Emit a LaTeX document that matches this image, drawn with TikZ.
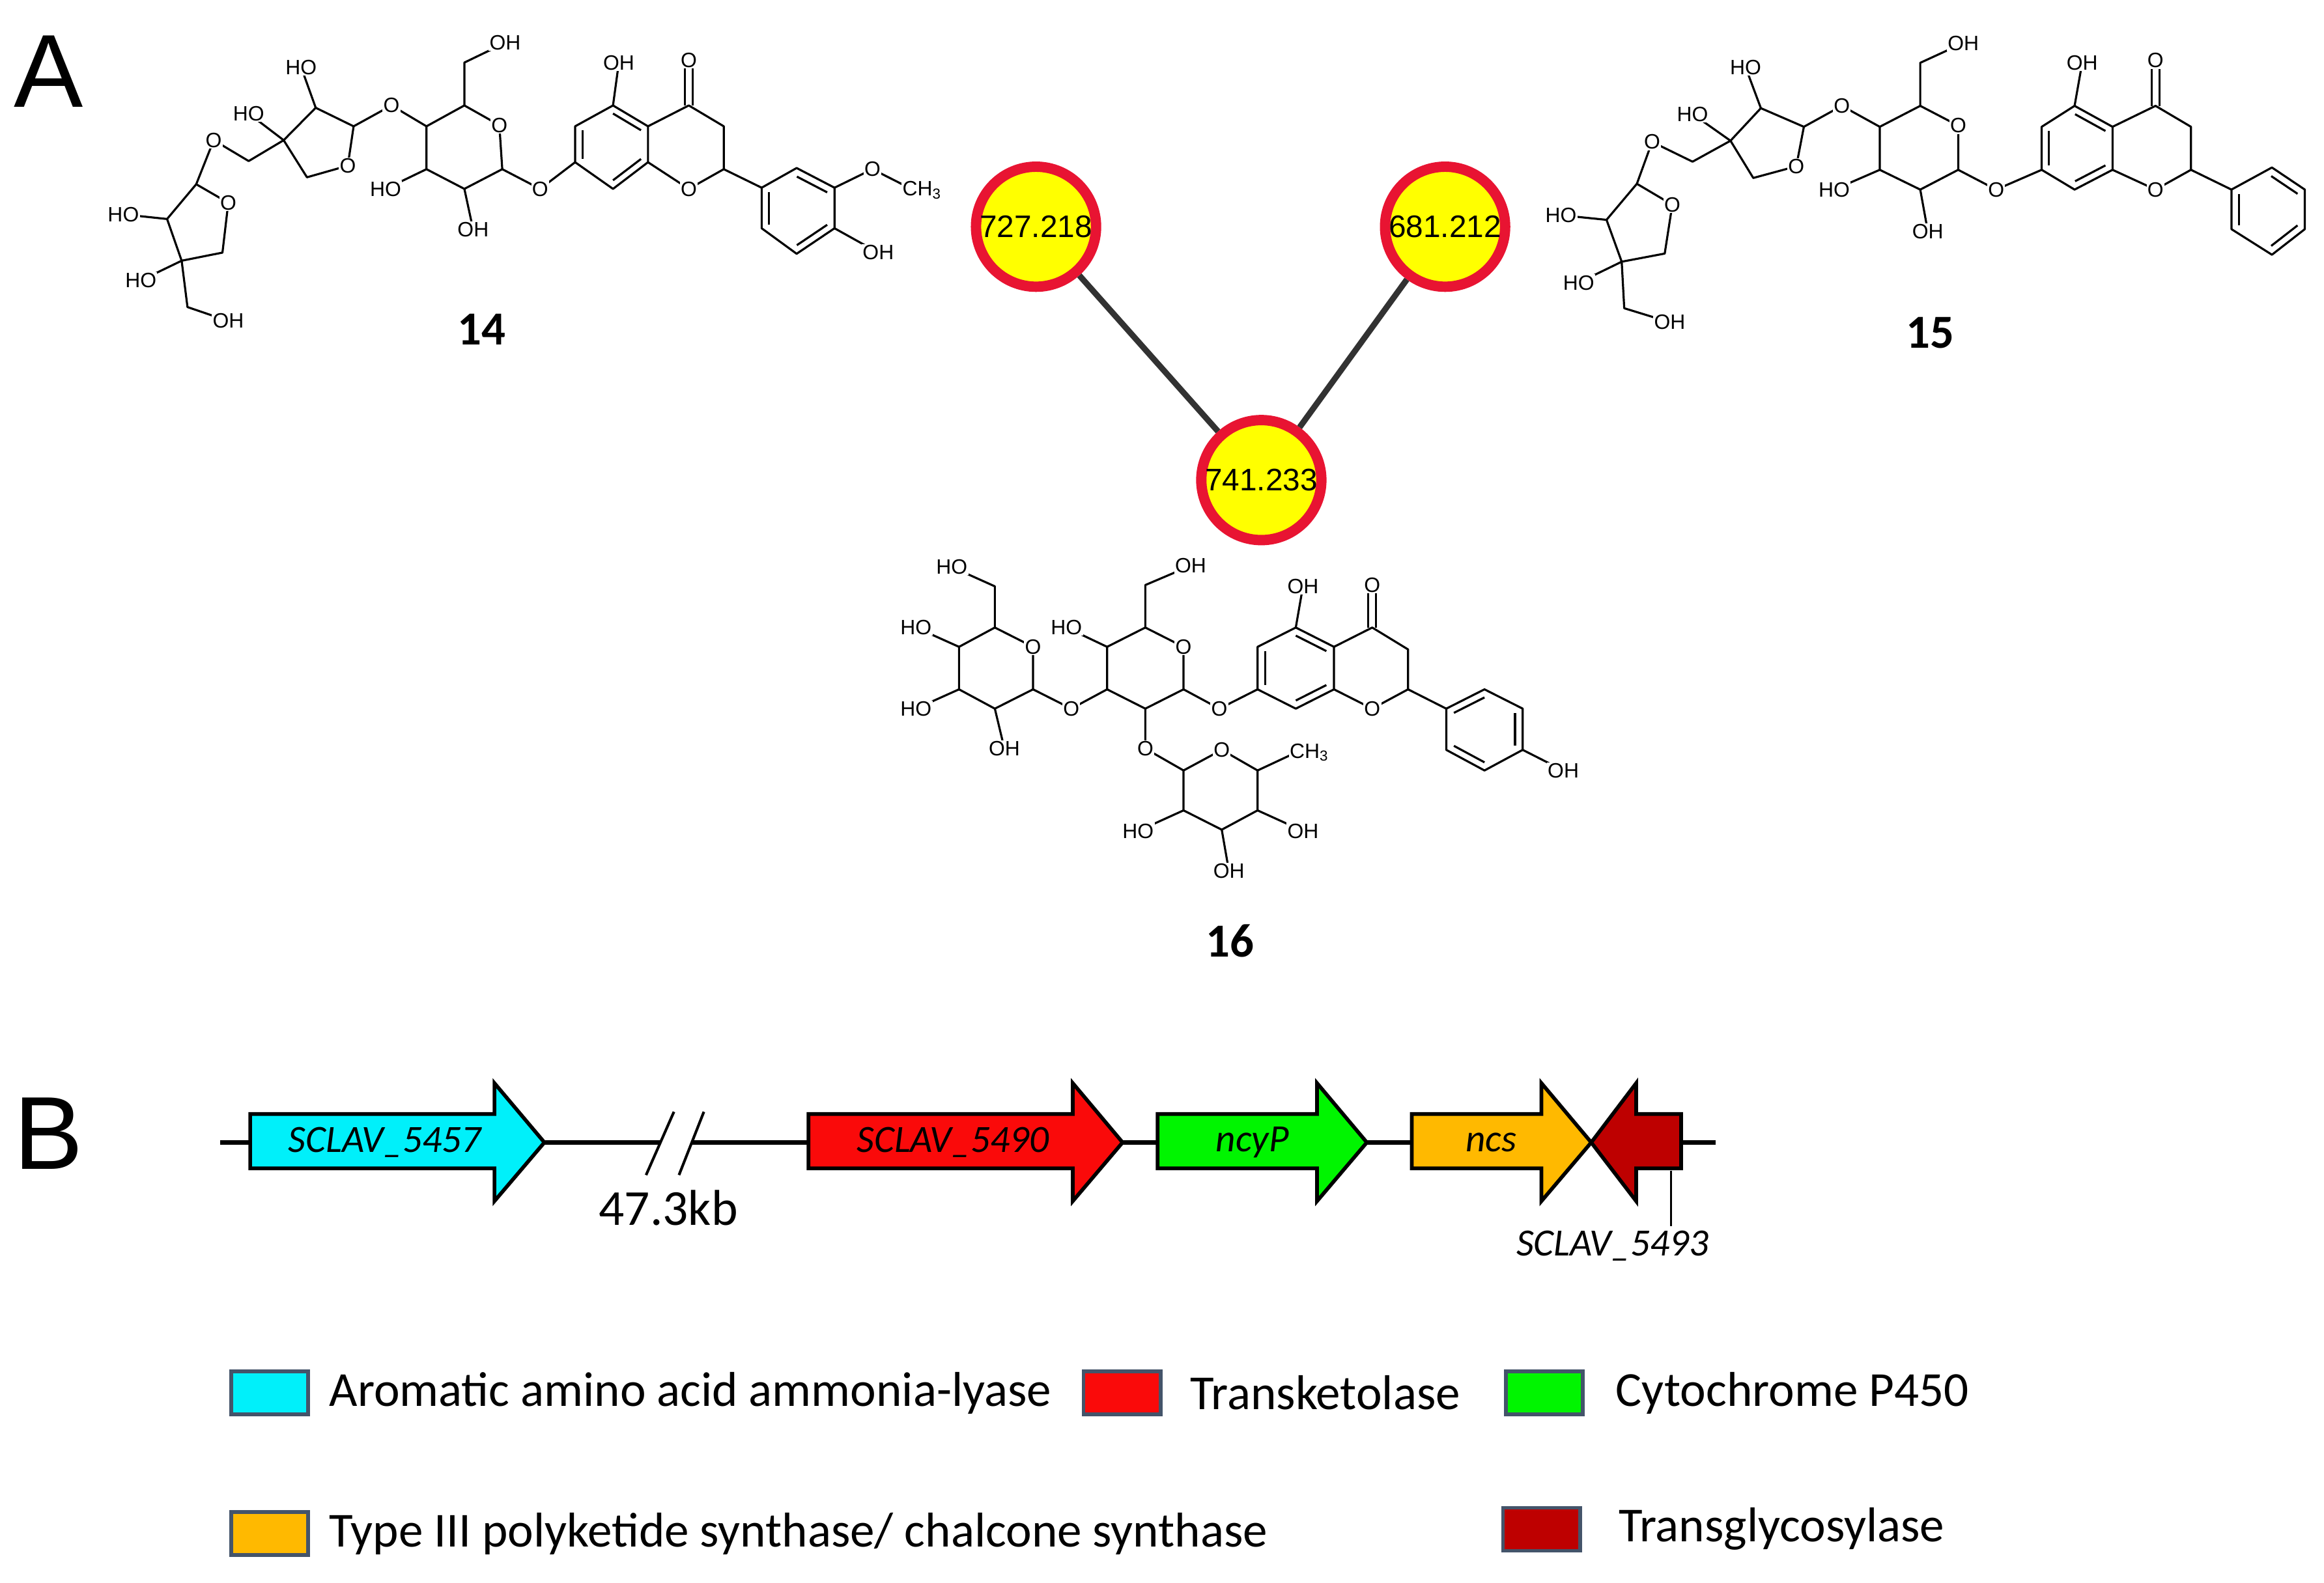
\documentclass[tikz,border=0pt]{standalone}
\usepackage{fontspec}
\usepackage{graphicx}
\setmainfont{Carlito}
\newfontfamily\arial{Liberation Sans}
\usetikzlibrary{calc}
\definecolor{netred}{RGB}{232,20,50}
\definecolor{netyel}{RGB}{255,255,0}
\definecolor{gcyan}{RGB}{0,240,250}
\definecolor{gred}{RGB}{250,10,10}
\definecolor{ggreen}{RGB}{0,245,0}
\definecolor{gorange}{RGB}{255,185,0}
\definecolor{gdred}{RGB}{190,0,0}
\definecolor{legbd}{RGB}{68,84,106}
\newcommand\dbl[3]{\draw ($#1!0.2!#3$) -- ($#2!0.2!#3$);}
\tikzset{
 chem/.style={line width=1.4pt, line join=round},
 atm/.style={font=\arial\fontsize{14}{14}\selectfont, fill=white, inner sep=0.6pt},
 cmpd/.style={font=\bfseries\fontsize{32}{32}\selectfont},
 netnode/.style={circle, draw=netred, fill=netyel, line width=7pt, minimum size=81pt, inner sep=0pt, font=\arial\fontsize{21}{21}\selectfont},
 netedge/.style={line width=4pt, draw={rgb,255:red,50;green,50;blue,50}},
 gene/.style={line width=2.5pt, draw=black, line join=miter},
 glab/.style={font=\itshape\fontsize{26}{26}\selectfont},
 legsq/.style={draw=legbd, line width=2.5pt, minimum width=52pt, minimum height=29pt, inner sep=0pt},
 legtx/.style={anchor=west, font=\fontsize{33}{33}\selectfont, inner sep=0pt},
 panel/.style={font=\arial\fontsize{70}{70}\selectfont}
}
\begin{document}
\begin{tikzpicture}[x=1pt,y=-1pt]
\useasboundingbox (0,0) rectangle (1568,1068);
\node[panel] (pA) at (33,48) {A};
\node[panel] (pB) at (33,765) {B};

% ---------- compound 14 ----------
\begin{scope}[shift={(43.9,0)},xscale=0.3933,yscale=0.1564,chem]
\draw (175,945)--(225,795)--(280,875)--(270,1090)--(200,1125)--cycle;
\draw (175,945)--(100,925) (200,1125)--(130,1210) (200,1125)--(210,1325)--(280,1385);
\draw (225,795)--(255,605)--(315,695)--(375,605);
\draw (375,605)--(430,465)--(495,545)--(485,715)--(415,765)--cycle;
\draw (430,465)--(405,290) (375,605)--(315,490);
\draw (495,545)--(560,455)--(620,545);
\draw (620,545)--(685,455)--(745,540)--(750,730)--(685,815)--(620,730)--cycle;
\draw (685,455)--(685,270)--(755,185) (620,730)--(550,815) (685,815)--(700,990);
\draw (750,730)--(815,815)--(875,700);
\draw (875,700)--(940,815)--(1000,700)--(1000,545)--(940,455)--(875,545)--cycle;
\draw (940,455)--(950,270);
\draw (1000,545)--(1070,455)--(1130,545)--(1130,730)--(1070,815)--(1000,700);
\draw (1063,455)--(1063,270) (1077,455)--(1077,270);
\draw (1130,730)--(1195,810);
\draw (1195,810)--(1255,725)--(1320,810)--(1320,985)--(1255,1095)--(1195,985)--cycle;
\draw (1320,810)--(1385,730)--(1440,800) (1320,985)--(1395,1090);
\dbl{(875,545)}{(875,700)}{(940,630)}
\dbl{(940,455)}{(1000,545)}{(940,630)}
\dbl{(940,815)}{(1000,700)}{(940,630)}
\dbl{(1255,725)}{(1320,810)}{(1257,910)}
\dbl{(1320,985)}{(1255,1095)}{(1257,910)}
\dbl{(1195,985)}{(1195,810)}{(1257,910)}
\foreach \p in {(280,875),(485,715),(560,455),(745,540),(815,815),(1070,815),(1070,260),(255,605),(1385,730)} \node[atm] at \p {O};
\foreach \p in {(100,925),(130,1210),(405,290),(315,490),(550,815)} \node[atm] at \p {HO};
\foreach \p in {(280,1385),(755,185),(700,990),(950,270),(1395,1090)} \node[atm] at \p {OH};
\node[atm] at (1470,820) {CH\textsubscript{3}};
\node[cmpd] (c14) at (715,1420) {14};
\end{scope}

% ---------- compound 15 ----------
\begin{scope}[shift={(1032.7,0)},xscale=0.3414,yscale=0.157,chem]
\draw (150,945)--(210,790)--(280,880)--(265,1090)--(180,1125)--cycle;
\draw (150,945)--(60,925) (180,1125)--(95,1215) (180,1125)--(185,1325)--(275,1385);
\draw (210,790)--(240,610)--(320,695)--(395,605);
\draw (395,605)--(455,465)--(540,545)--(525,715)--(440,765)--cycle;
\draw (455,465)--(425,290) (395,605)--(320,490);
\draw (540,545)--(615,455)--(690,545);
\draw (690,545)--(770,455)--(845,540)--(845,730)--(770,815)--(690,730)--cycle;
\draw (770,455)--(770,270)--(855,185) (690,730)--(600,815) (770,815)--(785,995);
\draw (845,730)--(920,815)--(1010,730);
\draw (1010,730)--(1075,815)--(1150,730)--(1150,545)--(1075,455)--(1010,545)--cycle;
\draw (1075,455)--(1090,270);
\draw (1150,545)--(1235,455)--(1305,545)--(1305,730)--(1235,815)--(1150,730);
\draw (1227,455)--(1227,270) (1243,455)--(1243,270);
\draw (1305,730)--(1385,815);
\draw (1385,815)--(1465,720)--(1530,815)--(1530,985)--(1465,1095)--(1385,985)--cycle;
\dbl{(1010,545)}{(1010,730)}{(1080,635)}
\dbl{(1075,455)}{(1150,545)}{(1080,635)}
\dbl{(1075,815)}{(1150,730)}{(1080,635)}
\dbl{(1465,720)}{(1530,815)}{(1458,905)}
\dbl{(1530,985)}{(1465,1095)}{(1458,905)}
\dbl{(1385,985)}{(1385,815)}{(1458,905)}
\foreach \p in {(280,880),(525,715),(615,455),(845,540),(920,815),(1235,815),(1235,260),(240,610)} \node[atm] at \p {O};
\foreach \p in {(60,925),(95,1215),(425,290),(320,490),(600,815)} \node[atm] at \p {HO};
\foreach \p in {(275,1385),(855,185),(785,995),(1090,270)} \node[atm] at \p {OH};
\node[cmpd] (c15) at (790,1430) {15};
\end{scope}

% ---------- compound 16 ----------
\begin{scope}[shift={(571.3,334)},xscale=0.3223,yscale=0.1738,chem]
\draw (310,515)--(390,590)--(390,755)--(310,830)--(235,755)--(235,590)--cycle;
\draw (310,515)--(310,355)--(220,280) (235,590)--(145,515) (235,755)--(145,830) (310,830)--(330,985);
\draw (390,755)--(470,830)--(545,755);
\draw (545,590)--(625,515)--(705,590)--(705,755)--(625,830)--(545,755)--cycle;
\draw (545,590)--(460,515) (625,515)--(625,350)--(720,275);
\draw (705,755)--(780,830)--(860,755) (625,830)--(625,985)--(705,1070);
\draw (705,1070)--(785,990)--(860,1070)--(860,1225)--(785,1300)--(705,1225)--cycle;
\draw (860,1070)--(935,1005) (705,1225)--(610,1305) (860,1225)--(955,1305) (785,1300)--(800,1460);
\draw (860,755)--(940,830)--(1020,755)--(1020,590)--(940,515)--(860,590)--cycle;
\draw (940,515)--(955,355);
\draw (1020,590)--(1100,515)--(1175,600)--(1175,755)--(1100,830)--(1020,755);
\draw (1092,515)--(1092,350) (1108,515)--(1108,350);
\draw (1175,755)--(1255,830);
\draw (1255,830)--(1335,755)--(1415,830)--(1415,990)--(1335,1070)--(1255,990)--cycle;
\draw (1415,990)--(1500,1070);
\dbl{(860,590)}{(860,755)}{(940,672)}
\dbl{(940,515)}{(1020,590)}{(940,672)}
\dbl{(940,830)}{(1020,755)}{(940,672)}
\dbl{(1255,830)}{(1335,755)}{(1335,912)}
\dbl{(1415,830)}{(1415,990)}{(1335,912)}
\dbl{(1335,1070)}{(1255,990)}{(1335,912)}
\foreach \p in {(390,590),(470,830),(705,590),(780,830),(625,985),(785,990),(1100,830),(1100,350)} \node[atm] at \p {O};
\foreach \p in {(220,280),(145,515),(145,830),(460,515),(610,1305)} \node[atm] at \p {HO};
\foreach \p in {(330,985),(720,275),(955,355),(955,1305),(800,1460),(1500,1070)} \node[atm] at \p {OH};
\node[atm] at (968,1000) {CH\textsubscript{3}};
\end{scope}
\node[cmpd] (c16) at (830,635) {16};

% ---------- network ----------
\node[netnode] (n1) at (699,153) {727.218};
\node[netnode] (n2) at (975,153) {681.212};
\node[netnode] (n3) at (851,324) {741.233};
\draw[netedge] (n1) -- (n3);
\draw[netedge] (n2) -- (n3);

% ---------- gene cluster ----------
\coordinate (bL) at (148.6,771);
\coordinate (gapL) at (445,771);
\coordinate (gapR) at (467,771);
\coordinate (bR) at (1157.7,771);
\draw[line width=3pt] (bL) -- (gapL);
\draw[line width=3pt] (gapR) -- (bR);
\draw[line width=1.8pt] (454.7,750.3) -- (435.9,793);
\draw[line width=1.8pt] (474.9,750.3) -- (458.1,793);
\node[font=\fontsize{34}{34}\selectfont] (kb) at (451,815) {47.3kb};

\draw[gene, fill=gcyan] (168.8,751.8)--(333.6,751.8)--(333.6,731)--(367.3,771)--(333.6,810.6)--(333.6,788.5)--(168.8,788.5)--cycle;
\draw[gene, fill=gred] (545.5,751.8)--(723.8,751.8)--(723.8,731)--(757.4,771)--(723.8,810.6)--(723.8,788.5)--(545.5,788.5)--cycle;
\draw[gene, fill=ggreen] (781,751.8)--(888.6,751.8)--(888.6,731)--(922.2,771)--(888.6,810.6)--(888.6,788.5)--(781,788.5)--cycle;
\draw[gene, fill=gorange] (952.5,751.8)--(1040,751.8)--(1040,731)--(1073.6,771)--(1040,810.6)--(1040,788.5)--(952.5,788.5)--cycle;
\draw[gene, fill=gdred] (1134.2,751.8)--(1103.9,751.8)--(1103.9,731)--(1073.6,771)--(1103.9,810.6)--(1103.9,788.5)--(1134.2,788.5)--cycle;
\node[glab] (g1) at (259.6,771) {SCLAV\_5457};
\node[glab] (g2) at (643,771) {SCLAV\_5490};
\node[glab] (g3) at (845,771) {ncyP};
\node[glab] (g4) at (1006,771) {ncs};
\coordinate (tk) at (1127.4,790);
\node[glab] (g5) at (1088,841) {SCLAV\_5493};
\draw[line width=1.5pt] (tk) -- (g5.north -| tk);

% ---------- legend ----------
\node[legsq, fill=gcyan] (l1) at (182,940) {};
\node[legtx] (t1) at (222,940) {Aromatic amino acid ammonia-lyase};
\node[legsq, fill=gred] (l2) at (757,940) {};
\node[legtx] (t2) at (803,940) {Transketolase};
\node[legsq, fill=ggreen] (l3) at (1042,940) {};
\node[legtx] (t3) at (1090,940) {Cytochrome P450};
\node[legsq, fill=gorange] (l4) at (182,1035) {};
\node[legtx] (t4) at (222,1035) {Type III polyketide synthase/ chalcone synthase};
\node[legsq, fill=gdred] (l5) at (1040,1032) {};
\node[legtx] (t5) at (1092,1032) {Transglycosylase};
\end{tikzpicture}
\end{document}
